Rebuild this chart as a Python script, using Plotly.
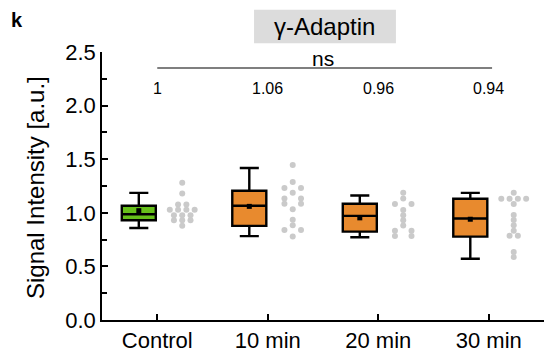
import plotly.graph_objects as go

# ---------------- data ----------------
categories = ["Control", "10 min", "20 min", "30 min"]
box_colors = ["#66c01a", "#e88a2e"]  # control, treatments

q1 = [0.930, 0.878, 0.824, 0.778]
median = [0.987, 1.066, 0.971, 0.947]
q3 = [1.066, 1.205, 1.085, 1.131]
lower_whisker = [0.858, 0.782, 0.772, 0.572]
upper_whisker = [1.186, 1.418, 1.161, 1.186]
means = [1.020, 1.060, 0.953, 0.940]

pts_control = [1.281, 1.179, 1.078, 1.078, 1.029, 1.029, 1.029, 1.029,
               0.977, 0.977, 0.977, 0.931, 0.931, 0.931, 0.879]
pts_10min = [1.446, 1.287, 1.232, 1.232, 1.186, 1.133, 1.133, 1.085, 1.085,
             1.032, 0.935, 0.885, 0.839, 0.839, 0.778]
pts_20min = [1.186, 1.133, 1.082, 1.082, 1.027, 0.977, 0.931, 0.882,
             0.832, 0.832, 0.784, 0.784]
pts_30min = [1.186, 1.131, 1.131, 1.131, 1.131, 1.082, 0.979, 0.933, 0.884,
             0.833, 0.787, 0.787, 0.634, 0.588]
points = [pts_control, pts_10min, pts_20min, pts_30min]

ratio_labels = ["1", "1.06", "0.96", "0.94"]
sig_label = "ns"
title_text = "γ-Adaptin"
panel_letter = "k"
y_title = "Signal Intensity [a.u.]"

# ---------------- layout constants ----------------
BOX_OFF = -0.167
DOT_OFF = 0.226
BOX_W = 0.308
DOT_STEP = 0.075
NEIGH = 0.07
FONT = "Liberation Sans, Arial, sans-serif"


def swarm_offsets(vals):
    """Row-based beeswarm: identical values form a row, centred on the column."""
    rows = sorted(set(vals), reverse=True)
    counts = {v: vals.count(v) for v in rows}
    slots = {}
    spread = {}
    for v in rows:
        n = counts[v]
        above = [r for r in rows if r > v and r - v < NEIGH]
        below = [r for r in rows if r < v and v - r < NEIGH]
        if n == 2 and ((above and below) or any(spread.get(r) for r in above)):
            spread[v] = True
            slots[v] = [-1.0, 1.0]
        else:
            spread[v] = False
            slots[v] = [k - (n - 1) / 2 for k in range(n)]
    used = {v: 0 for v in rows}
    out = []
    for v in vals:
        out.append(slots[v][used[v]] * DOT_STEP)
        used[v] += 1
    return out


fig = go.Figure()

for i, cat in enumerate(categories):
    xb = i + BOX_OFF
    fig.add_trace(go.Box(
        x=[xb], q1=[q1[i]], median=[median[i]], q3=[q3[i]],
        lowerfence=[lower_whisker[i]], upperfence=[upper_whisker[i]],
        width=BOX_W, whiskerwidth=0.56, boxpoints=False,
        fillcolor=box_colors[0] if i == 0 else box_colors[1],
        line=dict(color="black", width=2.4), showlegend=False, hoverinfo="skip"))
    offs = swarm_offsets(points[i])
    fig.add_trace(go.Scatter(
        x=[i + DOT_OFF + o for o in offs], y=points[i], mode="markers",
        marker=dict(color="#cacaca", size=6, symbol="circle"),
        showlegend=False, hoverinfo="skip"))

fig.add_trace(go.Scatter(
    x=[i + BOX_OFF for i in range(len(categories))], y=means, mode="markers",
    marker=dict(color="black", size=5, symbol="square"),
    showlegend=False, hoverinfo="skip"))


def ann(x, y, text, size, xref="paper", yref="paper", angle=0):
    return dict(x=x, y=y, xref=xref, yref=yref, text=text, showarrow=False,
                xanchor="center", yanchor="middle", textangle=angle,
                font=dict(size=size, color="black", family=FONT))


annotations = []
for i, lab in enumerate(ratio_labels):
    annotations.append(ann(i, 2.161, lab, 16, "x", "y"))
annotations.append(ann(1.5, 2.44, sig_label, 21, "x", "y"))
annotations.append(ann(0.5045, 1.0956, title_text, 24))
annotations.append(ann(-0.192, 1.118, "<b>" + panel_letter + "</b>", 20))
annotations.append(ann(-0.149, 0.493, y_title, 24, angle=-90))

shapes = [
    dict(type="rect", xref="paper", yref="paper", x0=0.344, x1=0.665, y0=1.033, y1=1.158,
         fillcolor="#dcdcdc", line=dict(width=0), layer="below"),
    dict(type="line", xref="x", yref="y", x0=0, x1=3.03, y0=2.351, y1=2.351,
         line=dict(color="#555555", width=1.5)),
]

fig.update_layout(
    width=549, height=358,
    margin=dict(l=102, r=5, t=52, b=34),
    paper_bgcolor="white", plot_bgcolor="white",
    font=dict(family=FONT, color="black", size=22),
    annotations=annotations, shapes=shapes,
    xaxis=dict(range=[-0.5, 3.5], tickvals=list(range(len(categories))),
               ticktext=categories, ticks="inside", ticklen=6, tickwidth=1.5,
               tickcolor="black", showline=True, linecolor="black", linewidth=1.5,
               showgrid=False, zeroline=False, tickfont=dict(size=22)),
    yaxis=dict(range=[0, 2.5], dtick=0.5, tickformat=".1f", ticks="inside",
               ticklen=6, tickwidth=1.5, tickcolor="black", showline=True,
               linecolor="black", linewidth=1.5, showgrid=False, zeroline=False,
               tickfont=dict(size=22),
               minor=dict(dtick=0.25, ticks="inside", ticklen=5, tickwidth=1.5,
                          tickcolor="black")),
)

fig.write_html("out.html")
